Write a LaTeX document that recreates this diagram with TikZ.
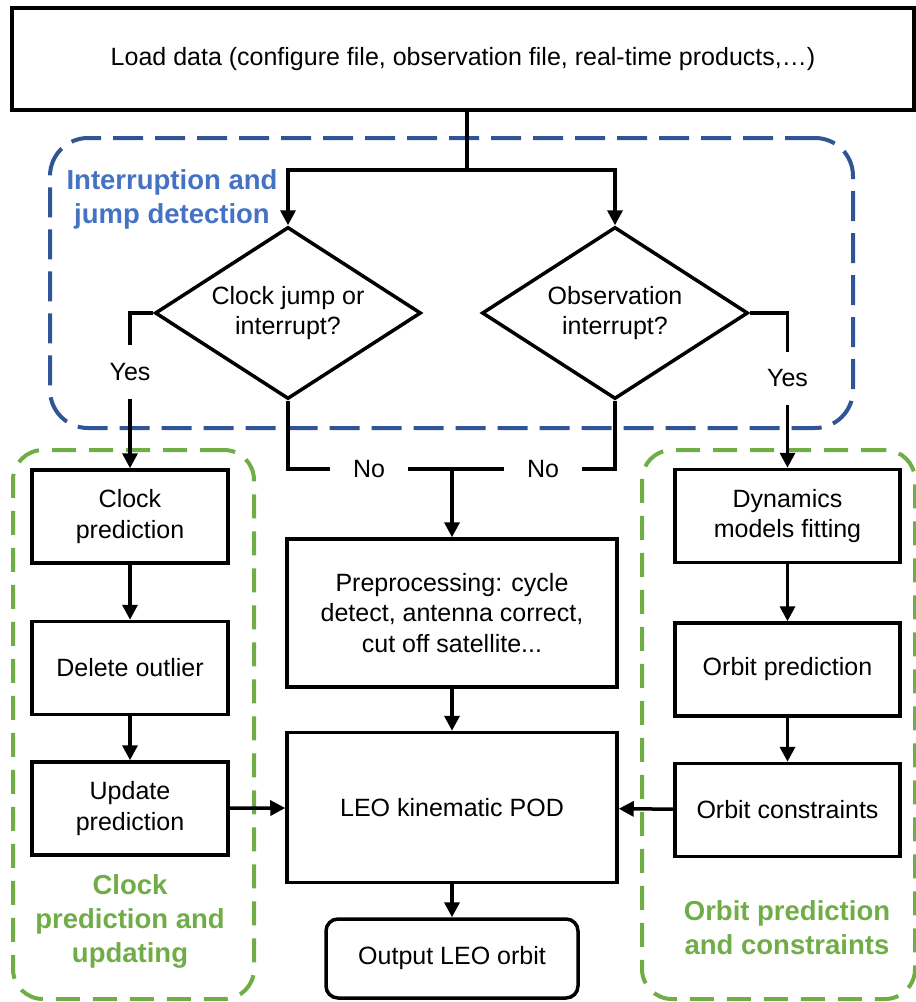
\documentclass[tikz,border=0pt]{standalone}
\usepackage{fontspec}
\setmainfont{Liberation Sans}
\usepackage{tikz}
\usetikzlibrary{positioning, shapes.geometric, arrows.meta}

\definecolor{frameblue}{HTML}{2F5597}
\definecolor{titleblue}{HTML}{4472C4}
\definecolor{framegreen}{HTML}{70AD47}

\begin{document}
\begin{tikzpicture}[x = 1pt, y = -1pt, line width = 3.5pt, >={Triangle[length = 15pt, width = 15pt]},
    every node/.style = { align = center, font = \fontsize{25}{30.5}\selectfont },
    box/.style = { draw, shape = rectangle, inner sep = 2pt },
    sidebox/.style = { box, minimum width = 196pt, minimum height = 93pt },
    query/.style = { draw, shape = diamond, aspect = 1.55, inner sep = 1pt, minimum width = 266pt, minimum height = 172pt },
    answer/.style = { inner sep = 0pt, minimum width = 74pt, minimum height = 50pt },
    groupbox/.style = { draw, rounded corners = 38pt, line width = 4pt, dash pattern = on 30pt off 12pt },
    grouptitle/.style = { font = \fontsize{27.5}{34}\selectfont\bfseries }]
    \useasboundingbox (0, 0) rectangle (916, 1002);

    \node[groupbox, draw = frameblue, minimum width = 803pt, minimum height = 290pt] (detgrp) at (451.5, 283) {};
    \node[groupbox, draw = framegreen, dash pattern = on 24pt off 13pt, rounded corners = 30pt, minimum width = 241pt, minimum height = 549pt] (clkgrp) at (133.5, 724.5) {};
    \node[groupbox, draw = framegreen, dash pattern = on 24pt off 13pt, rounded corners = 30pt, minimum width = 273pt, minimum height = 549pt] (orbgrp) at (778.5, 724.5) {};

    \node[grouptitle, text = titleblue] (dettitle) at (172, 199) {Interruption and\\jump detection};
    \node[grouptitle, text = framegreen] (clktitle) at (130, 921) {Clock\\prediction and\\updating};
    \node[grouptitle, text = framegreen] (orbtitle) at (787, 928) {Orbit prediction\\and constraints};

    \node[box, minimum width = 902pt, minimum height = 102pt] (load) at (463, 59) {Load data (configure file, observation file, real-time products,…)};
    \node[query] (jump) at (288, 313) {Clock jump or\\interrupt?};
    \node[query] (obs) at (615, 313) {Observation\\interrupt?};

    \node[sidebox] (clkpred) at (130, 516.5) {Clock\\prediction};
    \node[sidebox, below = 55pt of clkpred] (delout) {Delete outlier};
    \node[sidebox, below = 44pt of delout] (update) {Update\\prediction};

    \node[sidebox, minimum width = 225pt] (dyn) at (787.5, 516) {Dynamics\\models fitting};
    \node[sidebox, minimum width = 225pt, below = 57pt of dyn] (orbpred) {Orbit prediction};
    \node[sidebox, minimum width = 225pt, below = 44pt of orbpred] (orbcon) {Orbit constraints};

    \node[box, minimum width = 330pt, minimum height = 148pt] (prep) at (452, 613) {Preprocessing: cycle\\detect, antenna correct,\\cut off satellite...};
    \node[box, minimum width = 330pt, minimum height = 150pt, below = 42pt of prep] (pod) {LEO kinematic POD};
    \node[box, rounded corners = 12pt, minimum width = 252pt, minimum height = 79pt, below = 33pt of pod] (out) {Output LEO orbit};

    \node[answer] (yesl) at (130, 372) {Yes};
    \node[answer] (yesr) at (787.5, 378.5) {Yes};
    \node[answer] (nol) at (369, 469) {No};
    \node[answer] (nor) at (543, 469) {No};
    \coordinate (split) at (467, 170);
    \coordinate (merge) at (452, 469);

    \draw (load.south -| split) -- (split);
    \draw[->] (split) -| (jump.north);
    \draw[->] (split) -| (obs.north);
    \draw (jump.west) -| (yesl.north);
    \draw[->] (yesl.south) -- (clkpred.north);
    \draw (obs.east) -| (yesr.north);
    \draw[->] (yesr.south) -- (dyn.north);
    \draw (jump.south) |- (nol.west);
    \draw (obs.south) |- (nor.east);
    \draw (nol.east) -- (nor.west);
    \draw[->] (merge) -- (prep.north);
    \draw[->] (clkpred) -- (delout);
    \draw[->] (delout) -- (update);
    \draw[->] (dyn) -- (orbpred);
    \draw[->] (orbpred) -- (orbcon);
    \draw[->] (prep) -- (pod);
    \draw[->] (pod) -- (out);
    \draw[->] (update) -- (pod);
    \draw[->] (orbcon) -- (pod);
\end{tikzpicture}
\end{document}
